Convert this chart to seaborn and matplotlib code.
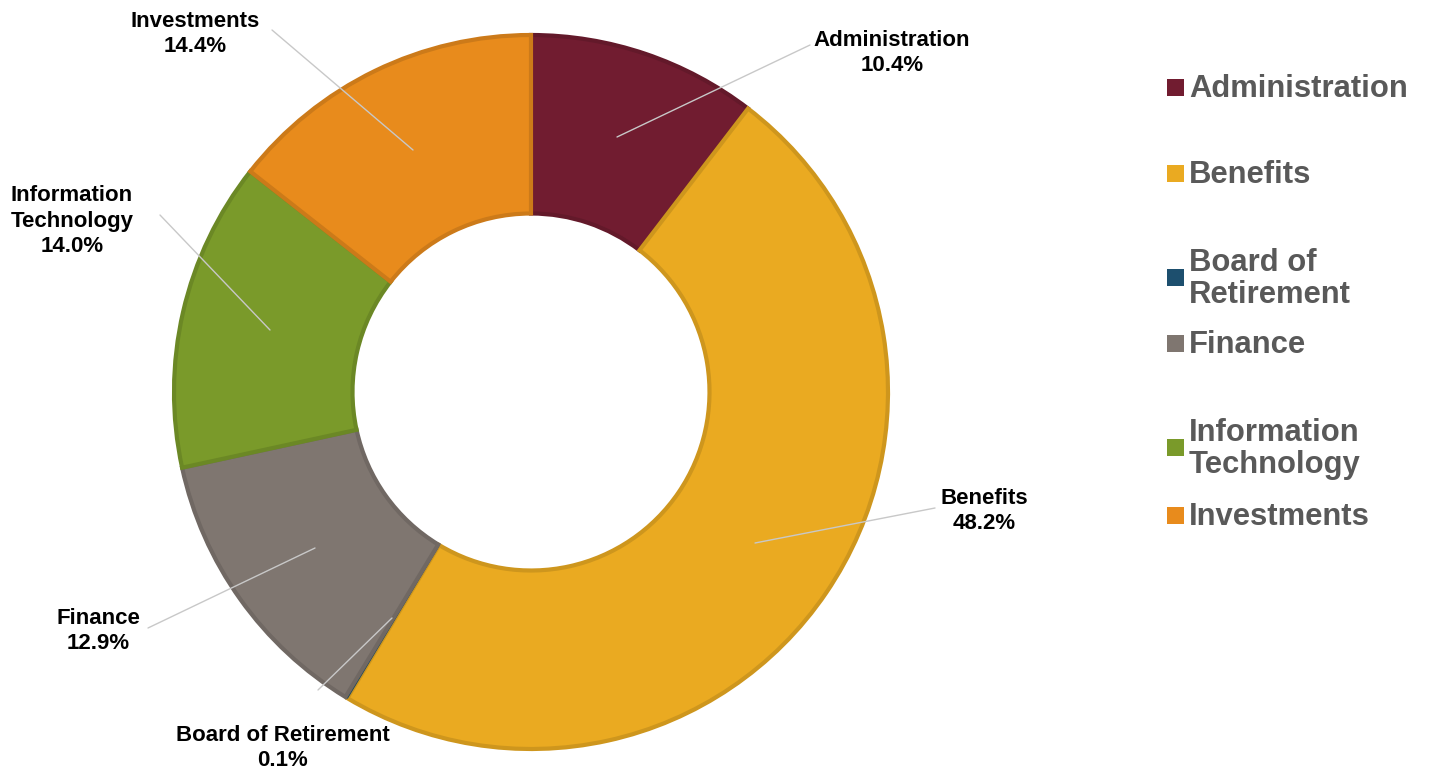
import matplotlib
matplotlib.use("Agg")
import matplotlib.pyplot as plt
import seaborn as sns
from matplotlib.patches import Rectangle
import matplotlib.colors as mcolors

sns.set_theme(style="white")
plt.rcParams['font.family'] = ['Liberation Sans', 'DejaVu Sans']

categories = ["Administration", "Benefits", "Board of Retirement", "Finance",
              "Information Technology", "Investments"]
values = [10.4, 48.2, 0.1, 12.9, 14.0, 14.4]
legend_labels = ["Administration", "Benefits", "Board of\nRetirement", "Finance",
                 "Information\nTechnology", "Investments"]
slice_labels = ["Administration\n10.4%", "Benefits\n48.2%", "Board of Retirement\n0.1%",
                "Finance\n12.9%", "Information\nTechnology\n14.0%", "Investments\n14.4%"]
colors = sns.color_palette(["#711C30", "#EAAA21", "#1D4F6E", "#7F7670", "#7A9A2A", "#E88B1C"])

W, H = 1429, 774
cx, cy, R = 531, 392, 357

def to_data(px, py):
    return (px - cx) / R, (cy - py) / R

def darker(c, f=0.88):
    r, g, b = mcolors.to_rgb(c)
    return (r * f, g * f, b * f)

fig = plt.figure(figsize=(W / 100, H / 100), dpi=100)
ax = fig.add_axes([0, 0, 1, 1])

wedges, _ = ax.pie(values, colors=colors, startangle=90, counterclock=False,
                   radius=1.0, wedgeprops=dict(width=0.5, linewidth=3))
for w, c in zip(wedges, colors):
    w.set_edgecolor(darker(c))
wedges[2].set_linewidth(1)

ax.set_aspect('auto')
ax.set_xlim(-cx / R, (W - cx) / R)
ax.set_ylim(-(H - cy) / R, cy / R)
ax.axis('off')

# leader lines (start px, end px) and text anchor px
leader = [
    ((617, 137), (810, 45), (892, 53)),
    ((755, 543), (935, 508), (984, 511)),
    ((392, 618), (318, 690), (283, 748)),
    ((315, 548), (148, 628), (98, 631)),
    ((270, 330), (160, 215), (72, 221)),
    ((413, 150), (272, 30), (195, 34)),
]
for (s, e, t), lab in zip(leader, slice_labels):
    x0, y0 = to_data(*s)
    x1, y1 = to_data(*e)
    ax.plot([x0, x1], [y0, y1], color="#C8C8C8", lw=1)
    tx, ty = to_data(*t)
    ax.text(tx, ty, lab, ha="center", va="center", fontsize=16,
            fontweight="bold", color="black", linespacing=1.28)

# legend
leg_y = [87, 173, 277, 343, 447, 515]
for lab, c, y in zip(legend_labels, colors, leg_y):
    fig.patches.append(Rectangle((1167 / W, 1 - (y + 9) / H), 17 / W, 17 / H,
                                 transform=fig.transFigure, facecolor=c, edgecolor='none'))
    fig.text(1189 / W, 1 - (y + 2) / H, lab, ha="left", va="center", fontsize=22.3,
             fontweight="bold", color="#595959", linespacing=1.1)

fig.savefig("out.png", dpi=100, facecolor="white")
